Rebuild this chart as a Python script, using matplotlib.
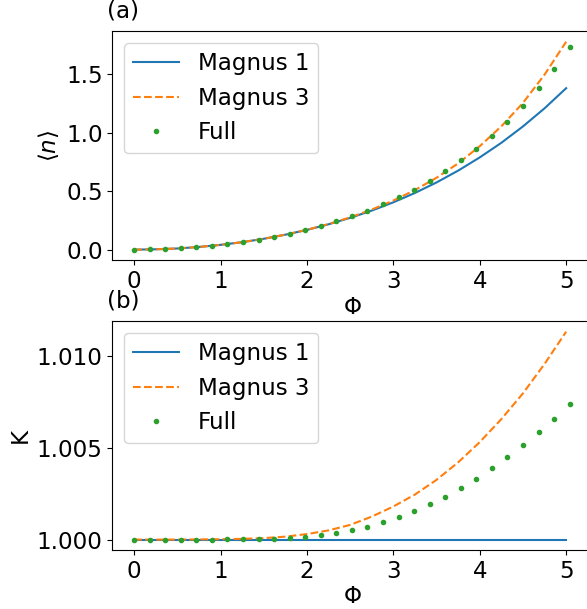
import matplotlib
matplotlib.use("Agg")
from matplotlib import pyplot as plt

phi_line = [0.0, 0.25, 0.5, 0.75, 1.0, 1.25, 1.5, 1.75, 2.0, 2.25, 2.5,
            2.75, 3.0, 3.25, 3.5, 3.75, 4.0, 4.25, 4.5, 4.75, 5.0]
phi_full = [0.0, 0.18, 0.36, 0.54, 0.72, 0.9, 1.08, 1.26, 1.44, 1.62, 1.8,
            1.98, 2.16, 2.34, 2.52, 2.7, 2.88, 3.06, 3.24, 3.42, 3.6, 3.78,
            3.96, 4.14, 4.32, 4.5, 4.68, 4.86, 5.04]

# (a) <n>
n_magnus1 = [0.0, 0.003, 0.010, 0.023, 0.041, 0.064, 0.093, 0.128, 0.169, 0.217, 0.272,
             0.334, 0.405, 0.485, 0.575, 0.676, 0.789, 0.914, 1.054, 1.209, 1.381]
n_magnus3 = [0.0, 0.003, 0.010, 0.023, 0.041, 0.064, 0.093, 0.128, 0.170, 0.219, 0.276,
             0.343, 0.420, 0.510, 0.615, 0.738, 0.885, 1.055, 1.255, 1.497, 1.778]
n_full = [0.0, 0.002, 0.006, 0.012, 0.021, 0.033, 0.047, 0.064, 0.085, 0.108, 0.134,
          0.166, 0.202, 0.243, 0.285, 0.334, 0.388, 0.451, 0.514, 0.588, 0.671, 0.763,
          0.862, 0.971, 1.094, 1.228, 1.380, 1.545, 1.731]

# (b) K
k_magnus1 = [1.0] * 21
k_magnus3 = [1.0, 1.0, 1.0, 1.00001, 1.00002, 1.00004, 1.00008, 1.00016, 1.0003, 1.0005,
             1.0008, 1.00125, 1.0018, 1.00245, 1.00325, 1.0042, 1.0053, 1.00655, 1.00795,
             1.00955, 1.0113]
k_full = [1.0, 1.0, 1.0, 1.0, 1.0, 1.0, 1.00001, 1.00001, 1.00002, 1.00005, 1.00009,
          1.00015, 1.00024, 1.00036, 1.00053, 1.00071, 1.00095, 1.00122, 1.00153, 1.00191,
          1.00234, 1.0028, 1.00331, 1.00387, 1.00449, 1.00515, 1.00585, 1.00658, 1.00735]

plt.rcParams['font.size'] = 16.6

fig = plt.figure(figsize=(5.87, 6.09), dpi=100)
ax1 = fig.add_axes([0.1915, 0.573, 0.816, 0.3755])
ax2 = fig.add_axes([0.1915, 0.0969, 0.816, 0.3755])

ax1.plot(phi_line, n_magnus1, '-', color='C0', label='Magnus 1')
ax1.plot(phi_line, n_magnus3, '--', color='C1', label='Magnus 3')
ax1.plot(phi_full, n_full, '.', color='C2', label='Full')
ax1.set_xlabel(r'$\Phi$', labelpad=2)
ax1.set_ylabel(r'$\langle n \rangle$')
ax1.set_yticks([0.0, 0.5, 1.0, 1.5])
ax1.set_xticks([0, 1, 2, 3, 4, 5])
ax1.legend(loc='upper left')
ax1.text(-0.012, 1.06, '(a)', transform=ax1.transAxes, va='baseline')

ax2.plot(phi_line, k_magnus1, '-', color='C0', label='Magnus 1')
ax2.plot(phi_line, k_magnus3, '--', color='C1', label='Magnus 3')
ax2.plot(phi_full, k_full, '.', color='C2', label='Full')
ax2.set_xlabel(r'$\Phi$', labelpad=2)
ax2.set_ylabel('K')
ax2.set_yticks([1.000, 1.005, 1.010])
ax2.set_xticks([0, 1, 2, 3, 4, 5])
ax2.ticklabel_format(axis='y', useOffset=False)
ax2.legend(loc='upper left')
ax2.text(-0.012, 1.06, '(b)', transform=ax2.transAxes, va='baseline')

fig.savefig('out.png', dpi=100)
